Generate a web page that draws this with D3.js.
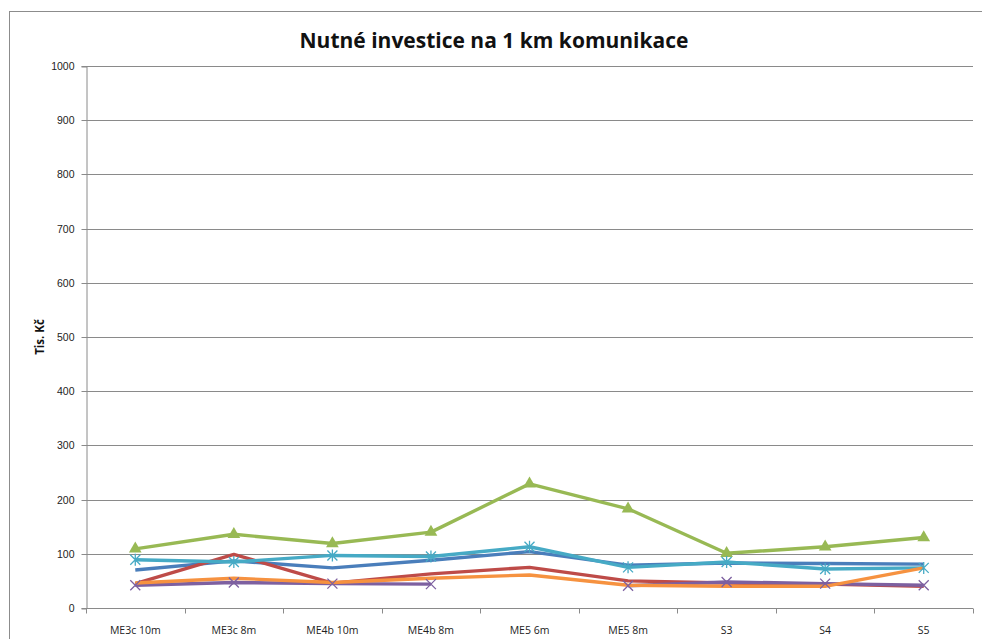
<!DOCTYPE html>
<html>
<head>
<meta charset="utf-8">
<script src="https://cdn.jsdelivr.net/npm/d3@7"></script>
<style>
  body { margin: 0; background: #fff; }
  svg { display: block; }
</style>
</head>
<body>
<div id="chart"></div>
<script>
/* chart data */
const categories = ["ME3c 10m", "ME3c 8m", "ME4b 10m", "ME4b 8m", "ME5 6m", "ME5 8m", "S3", "S4", "S5"];
const yTicks = [0, 100, 200, 300, 400, 500, 600, 700, 800, 900, 1000];

const serBlue   = [70, 87, 74, 88, 104, 79, 83, 82, 81];
const serRed    = [45, 99, 46, 63, 75, 50, 46, 44, 40];
const serGreen  = [109, 136, 119, 140, 229, 183, 101, 113, 130];
const serPurple = [42, 47, 45, 44, null, 41, 48, 45, 42];
const serCyan   = [89, 85, 97, 95, 113, 75, 85, 72, 74];
const serOrange = [46, 55, 47, 55, 61, 42, 40, 40, 74];

const series = [
  { name: "s1", values: serBlue,   color: "#4A7EBB", marker: null },
  { name: "s2", values: serRed,    color: "#BE4B48", marker: null },
  { name: "s3", values: serGreen,  color: "#98B954", marker: "triangle" },
  { name: "s4", values: serPurple, color: "#7D60A0", marker: "x" },
  { name: "s5", values: serCyan,   color: "#46AAC5", marker: "star" },
  { name: "s6", values: serOrange, color: "#F69240", marker: null },
];

const W = 982, H = 639;
const m = { left: 86, right: 9, top: 66, bottom: 31 };

const svg = d3.select("#chart").append("svg")
  .attr("width", W).attr("height", H)
  .style("font-family", "'Open Sans', 'DejaVu Sans', sans-serif");

/* outer chart frame */
svg.append("rect")
  .attr("x", 9.5).attr("y", 11.5)
  .attr("width", 990).attr("height", 700)
  .attr("fill", "none").attr("stroke", "#8c8c8c").attr("stroke-width", 1);

const x = d3.scaleBand().domain(categories).range([m.left, W - m.right]);
const y = d3.scaleLinear().domain([0, 1000]).range([H - m.bottom, m.top]);

/* horizontal gridlines */
svg.append("g").selectAll("line")
  .data(yTicks.filter(d => d > 0))
  .enter().append("line")
  .attr("x1", m.left).attr("x2", W - m.right)
  .attr("y1", d => Math.round(y(d)) + 0.5).attr("y2", d => Math.round(y(d)) + 0.5)
  .attr("stroke", "#8a8a8a").attr("stroke-width", 1);

/* y axis */
const yAxis = svg.append("g")
  .attr("transform", `translate(${m.left + 0.5},0.5)`)
  .call(d3.axisLeft(y).tickValues(yTicks).tickFormat(d3.format("d")).tickSize(5).tickPadding(7));
yAxis.select(".domain").attr("stroke", "#8a8a8a");
yAxis.selectAll(".tick line").attr("stroke", "#8a8a8a");
yAxis.selectAll(".tick text").attr("fill", "#222").style("font-size", "10.5px");
yAxis.selectAll(".tick").attr("transform", d => `translate(0,${Math.round(y(d))})`);

/* x axis with ticks between categories */
const xAxisY = Math.round(y(0)) + 0.5;
const xg = svg.append("g");
xg.append("line")
  .attr("x1", m.left).attr("x2", W - m.right)
  .attr("y1", xAxisY).attr("y2", xAxisY)
  .attr("stroke", "#8a8a8a");
const bounds = categories.map(c => x(c)).concat([x(categories[categories.length - 1]) + x.bandwidth()]);
xg.selectAll("line.tk")
  .data(bounds)
  .enter().append("line")
  .attr("class", "tk")
  .attr("x1", d => Math.round(d) + 0.5).attr("x2", d => Math.round(d) + 0.5)
  .attr("y1", xAxisY).attr("y2", xAxisY + 5)
  .attr("stroke", "#8a8a8a");
xg.selectAll("text")
  .data(categories)
  .enter().append("text")
  .attr("x", d => x(d) + x.bandwidth() / 2)
  .attr("y", xAxisY + 25)
  .attr("text-anchor", "middle")
  .attr("fill", "#222")
  .style("font-size", "10.5px")
  .text(d => d);

/* series lines */
const cx = c => x(c) + x.bandwidth() / 2;
const line = d3.line()
  .defined(d => d.v != null)
  .x(d => cx(d.c))
  .y(d => y(d.v));

const gS = svg.append("g");
series.forEach(s => {
  const pts = categories.map((c, i) => ({ c, v: s.values[i] }));
  gS.append("path")
    .datum(pts)
    .attr("d", line)
    .attr("fill", "none")
    .attr("stroke", s.color)
    .attr("stroke-width", 3.4)
    .attr("stroke-linejoin", "round");
});

/* markers drawn on top */
series.forEach(s => {
  if (!s.marker) return;
  const pts = categories.map((c, i) => ({ c, v: s.values[i] })).filter(d => d.v != null);
  const g = gS.append("g");
  if (s.marker === "triangle") {
    g.selectAll("path").data(pts).enter().append("path")
      .attr("transform", d => `translate(${cx(d.c)},${y(d.v)})`)
      .attr("d", d3.symbol(d3.symbolTriangle, 70))
      .attr("fill", s.color);
  } else {
    const r = 5;
    g.selectAll("path").data(pts).enter().append("path")
      .attr("transform", d => `translate(${cx(d.c)},${y(d.v)})`)
      .attr("d", s.marker === "star"
        ? `M${-r},${-r}L${r},${r}M${-r},${r}L${r},${-r}M0,${-r - 1}L0,${r + 1}`
        : `M${-r},${-r}L${r},${r}M${-r},${r}L${r},${-r}`)
      .attr("fill", "none")
      .attr("stroke", s.color)
      .attr("stroke-width", 1.3);
  }
});

/* title and axis title */
svg.append("text")
  .attr("x", 494).attr("y", 48)
  .attr("text-anchor", "middle")
  .attr("fill", "#111")
  .style("font-size", "21px").style("font-weight", "bold")
  .text("Nutné investice na 1 km komunikace");

svg.append("text")
  .attr("transform", "translate(44,337) rotate(-90)")
  .attr("text-anchor", "middle")
  .attr("fill", "#111")
  .style("font-size", "11.5px").style("font-weight", "bold")
  .text("Tis. Kč");
</script>
</body>
</html>
